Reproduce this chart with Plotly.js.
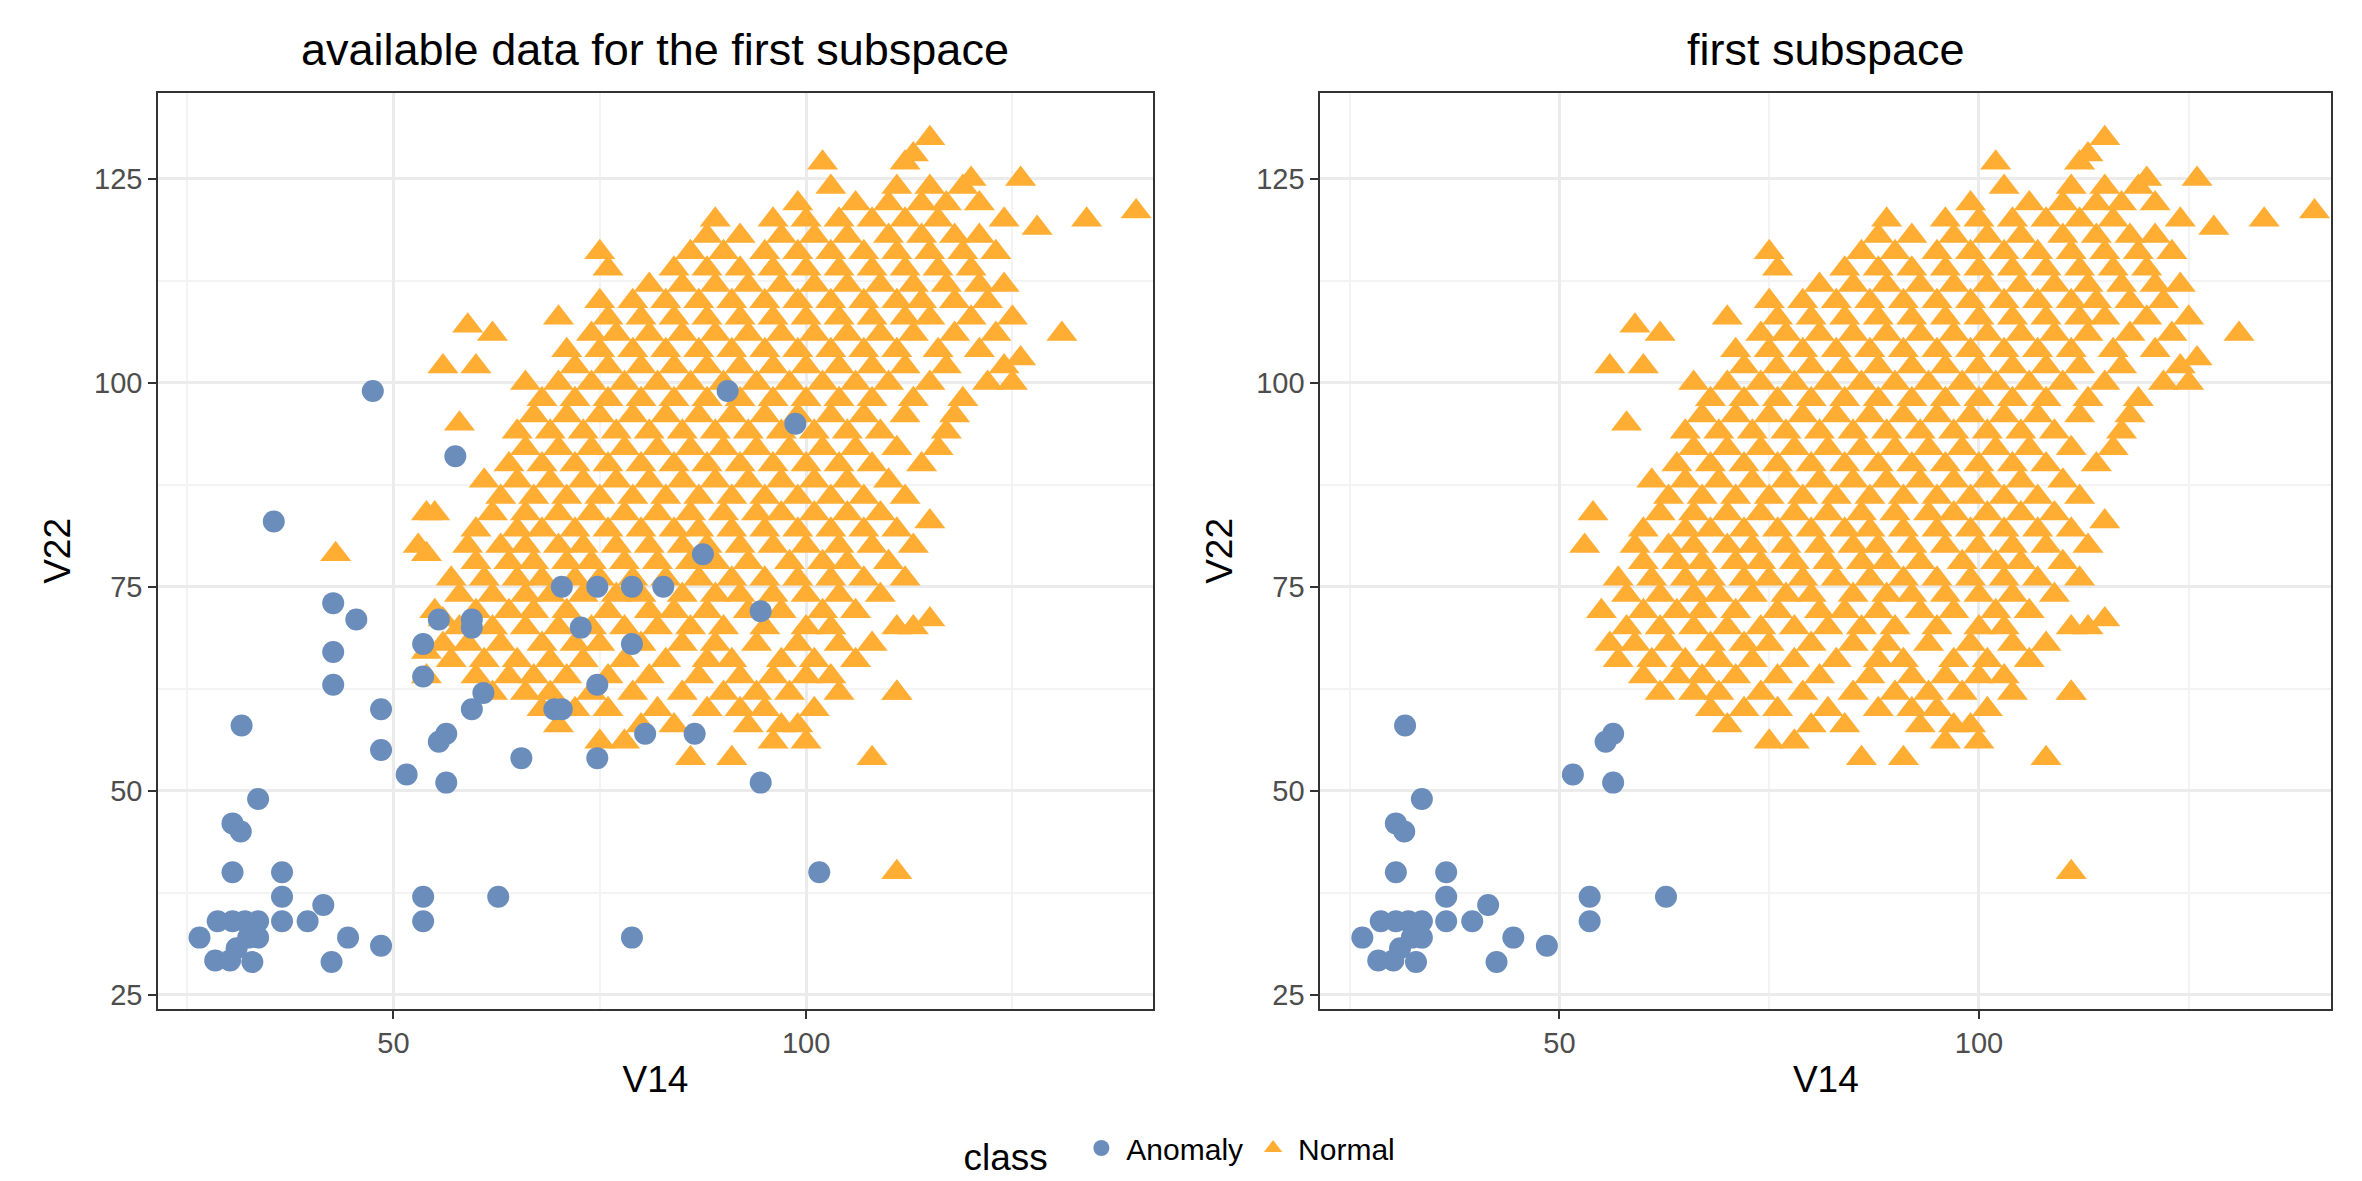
<!DOCTYPE html>
<html>
<head>
<meta charset="utf-8">
<script src="https://cdn.plot.ly/plotly-3.0.1.min.js"></script>
<style>html,body{margin:0;padding:0;background:#fff}#chart{width:2362px;height:1181px}</style>
</head>
<body>
<div id="chart"></div>
<script>
// Anomaly points (V14, V22) and whether they fall inside the first subspace
const anomalyX = [26.5,28.4,28.7,30.2,30.5,30.5,30.5,31,31.5,31.6,32,32.4,32.9,33.6,33.6,33.6,35.5,36.5,36.5,36.5,39.6,41.5,42.5,42.7,42.7,42.7,44.5,45.5,48.5,48.5,48.5,47.5,51.6,53.6,53.6,53.6,53.6,55.5,56.4,56.4,57.5,55.5,59.5,59.5,59.5,62.7,60.9,65.5,70.4,69.5,70.4,72.7,74.7,74.7,74.7,78.9,78.9,78.9,80.5,82.7,87.5,86.5,90.5,94.5,94.5,98.7,101.6];
const anomalyY = [32,29.2,34,29.2,46,40,34,30.7,45,58,34,32,29,34,32,49,83,40,37,34,34,36,29,73,67,63,32,71,31,55,60,99,52,34,37,64,68,56,57,51,91,71,71,70,60,37,62,54,75,60,60,70,75,63,54,75,68,32,57,75,79,57,99,72,51,95,40];
const anomalyInSub = [1,1,1,1,1,1,1,1,1,1,1,1,1,1,1,1,0,1,1,1,1,1,1,0,0,0,1,0,1,0,0,0,1,1,1,0,0,1,1,1,0,0,0,0,0,1,0,0,0,0,0,0,0,0,0,0,0,0,0,0,0,0,0,0,0,0,0];

// Normal points shared by both panels
const normalPts = [
[75,56],[78,56],[86,54],[91,54],[96,56],[100,56],
[70,58],[80,58],[84,58],[93,58],[97,58],[99,58],
[68,60],[72,60],[76,60],[82,60],[88,60],[92,60],[95,60],[101,60],
[62,62],[66,62],[69,62],[74,62],[79,62],[85,62],[90,62],[94,62],[98,62],[104,62],[111,62],
[60,64],[64,64],[67,64],[71,64],[76,64],[81,64],[87,64],[92,64],[96,64],[100,64],[103,64],
[57,66],[61,66],[65,66],[69,66],[73,66],[78,66],[83,66],[88,66],[91,66],[97,66],[101,66],[106,66],
[56,68],[59,68],[63,68],[68,68],[72,68],[75,68],[80,68],[85,68],[89,68],[94,68],[99,68],[104,68],[108,68],
[58,70],[62,70],[66,70],[70,70],[74,70],[78,70],[82,70],[86,70],[90,70],[95,70],[100,70],[103,70],[111,70],
[55,72],[60,72],[64,72],[67,72],[71,72],[76,72],[81,72],[84,72],[88,72],[93,72],[97,72],[102,72],[106,72],[115,71],
[58,74],[62,74],[66,74],[69,74],[73,74],[77,74],[80,74],[85,74],[89,74],[92,74],[96,74],[100,74],[104,74],[109,74],
[57,76],[61,76],[65,76],[68,76],[72,76],[75,76],[79,76],[83,76],[87,76],[91,76],[95,76],[99,76],[103,76],[107,76],[112,76],
[60,78],[64,78],[67,78],[71,78],[74,78],[78,78],[82,78],[86,78],[89,78],[93,78],[98,78],[102,78],[105,78],[110,78],
[53,80],[59,80],[63,80],[66,80],[70,80],[73,80],[77,80],[81,80],[85,80],[88,80],[92,80],[96,80],[100,80],[104,80],[108,80],[113,80],
[60,82],[65,82],[68,82],[72,82],[76,82],[80,82],[84,82],[87,82],[91,82],[95,82],[99,82],[103,82],[107,82],[111,82],
[54,84],[62,84],[66,84],[70,84],[74,84],[78,84],[82,84],[86,84],[90,84],[94,84],[97,84],[101,84],[105,84],[109,84],[115,83],
[63,86],[67,86],[71,86],[75,86],[79,86],[83,86],[87,86],[91,86],[95,86],[99,86],[103,86],[107,86],[112,86],
[61,88],[65,88],[69,88],[73,88],[77,88],[81,88],[85,88],[89,88],[93,88],[97,88],[101,88],[105,88],[110,88],
[64,90],[68,90],[72,90],[76,90],[80,90],[84,90],[88,90],[92,90],[96,90],[100,90],[104,90],[108,90],[114,90],
[66,92],[70,92],[74,92],[78,92],[82,92],[86,92],[90,92],[94,92],[98,92],[102,92],[106,92],[111,92],[116,92],
[65,94],[69,94],[73,94],[77,94],[81,94],[85,94],[89,94],[93,94],[97,94],[101,94],[105,94],[109,94],[117,94],
[58,95],[67,96],[71,96],[75,96],[79,96],[83,96],[87,96],[91,96],[95,96],[99,96],[103,96],[107,96],[112,96],[118,96],
[68,98],[72,98],[76,98],[80,98],[84,98],[88,98],[92,98],[96,98],[100,98],[104,98],[108,98],[113,98],[119,98],
[66,100],[70,100],[74,100],[78,100],[82,100],[86,100],[90,100],[94,100],[98,100],[102,100],[106,100],[110,100],[115,100],[122,100],[125,100],
[56,102],[60,102],[72,102],[76,102],[80,102],[84,102],[88,102],[92,102],[96,102],[100,102],[104,102],[108,102],[112,102],[117,102],[124,102],
[71,104],[75,104],[79,104],[83,104],[87,104],[91,104],[95,104],[99,104],[103,104],[107,104],[111,104],[116,104],[121,104],[126,103],
[59,107],[62,106],[74,106],[77,106],[81,106],[85,106],[89,106],[93,106],[97,106],[101,106],[105,106],[109,106],[113,106],[118,106],[123,106],[131,106],
[70,108],[76,108],[80,108],[84,108],[88,108],[92,108],[96,108],[100,108],[104,108],[108,108],[112,108],[115,108],[120,108],[125,108],
[75,110],[79,110],[83,110],[87,110],[91,110],[95,110],[99,110],[103,110],[107,110],[111,110],[114,110],[118,110],[122,110],
[81,112],[85,112],[89,112],[93,112],[97,112],[101,112],[105,112],[109,112],[113,112],[117,112],[121,112],[124,112],
[76,114],[84,114],[88,114],[92,114],[96,114],[100,114],[104,114],[108,114],[112,114],[116,114],[120,114],
[75,116],[86,116],[90,116],[95,116],[99,116],[103,116],[107,116],[111,116],[115,116],[119,116],[123,116],
[88,118],[92,118],[97,118],[101,118],[105,118],[110,118],[114,118],[118,118],[121,118],
[89,120],[96,120],[100,120],[104,120],[108,120],[112,120],[116,120],[124,120],[128,119],[134,120],
[99,122],[106,122],[110,122],[114,122],[117,122],[121,122],[140,121],
[103,124],[111,124],[115,124],[119,124],[120,125],[126,125],
[102,127],[112,127],[113,128],[115,130],
[111,40],[108,54],[111,62],[113,70]
];
// Extra normal points visible only in the left panel
const normalLeftOnly = [[43,79],[55,84],[54,64],[54,67],[56,71],[54,79]];

const ANOM = '#6a8dbb', NORM = '#ffad33';
const leftN = normalPts.concat(normalLeftOnly);
const subIdx = anomalyX.map((_, i) => i).filter((i) => anomalyInSub[i]);

const circ = { color: ANOM, size: 22, symbol: 'circle' };
const tri = { color: NORM, size: 27, symbol: 'triangle-up' };

const traces = [
  { type: 'scatter', mode: 'markers', x: leftN.map((p) => p[0]), y: leftN.map((p) => p[1]), xaxis: 'x', yaxis: 'y',
    name: 'Normal', legendrank: 2, marker: tri },
  { type: 'scatter', mode: 'markers', x: anomalyX, y: anomalyY, xaxis: 'x', yaxis: 'y',
    name: 'Anomaly', legendrank: 1, marker: circ },
  { type: 'scatter', mode: 'markers', x: normalPts.map((p) => p[0]), y: normalPts.map((p) => p[1]),
    xaxis: 'x2', yaxis: 'y2', showlegend: false, marker: tri },
  { type: 'scatter', mode: 'markers', x: subIdx.map((i) => anomalyX[i]), y: subIdx.map((i) => anomalyY[i]),
    xaxis: 'x2', yaxis: 'y2', showlegend: false, marker: circ },
];

function xax(domain, anchor) {
  return { domain, anchor, range: [21.5, 142], tickvals: [50, 100], showline: true, mirror: true,
    linecolor: '#333', linewidth: 2, gridcolor: '#ebebeb', gridwidth: 3, zeroline: false,
    ticks: 'outside', ticklen: 8, tickwidth: 2, tickcolor: '#333', tickfont: { size: 29, color: '#4d4d4d' },
    minor: { tickvals: [25, 75, 125], showgrid: true, gridcolor: '#f3f3f3', gridwidth: 1.5 },
    title: { text: 'V14', font: { size: 37, color: '#000' }, standoff: 8 } };
}
function yax(anchor) {
  return { domain: [0.146, 0.921], anchor, range: [23.3, 135.5], tickvals: [25, 50, 75, 100, 125],
    showline: true, mirror: true, linecolor: '#333', linewidth: 2, gridcolor: '#ebebeb', gridwidth: 3,
    zeroline: false, ticks: 'outside', ticklen: 8, tickwidth: 2, tickcolor: '#333', tickfont: { size: 29, color: '#4d4d4d' },
    minor: { tickvals: [37.5, 62.5, 87.5, 112.5], showgrid: true, gridcolor: '#f3f3f3', gridwidth: 1.5 },
    title: { text: 'V22', font: { size: 37, color: '#000' }, standoff: 12 } };
}

const layout = {
  width: 2362, height: 1181, paper_bgcolor: '#fff', plot_bgcolor: '#fff',
  font: { family: 'Liberation Sans, Arial, sans-serif' },
  margin: { l: 0, r: 0, t: 0, b: 0 },
  xaxis: xax([0.067, 0.488], 'y'), yaxis: yax('x'),
  xaxis2: xax([0.559, 0.987], 'y2'), yaxis2: yax('x2'),
  showlegend: true,
  legend: { orientation: 'h', x: 0.5, xanchor: 'center', y: 0.0, yanchor: 'bottom', itemwidth: 40,
    title: { text: 'class  ', font: { size: 37, color: '#000' } }, font: { size: 30, color: '#000' } },
  annotations: [
    { text: 'available data for the first subspace', xref: 'paper', yref: 'paper', x: 0.2775, y: 0.935,
      xanchor: 'center', yanchor: 'bottom', showarrow: false, font: { size: 45, color: '#000' } },
    { text: 'first subspace', xref: 'paper', yref: 'paper', x: 0.773, y: 0.935,
      xanchor: 'center', yanchor: 'bottom', showarrow: false, font: { size: 45, color: '#000' } },
  ],
};

Plotly.newPlot('chart', traces, layout, { displayModeBar: false });
</script>
</body>
</html>
